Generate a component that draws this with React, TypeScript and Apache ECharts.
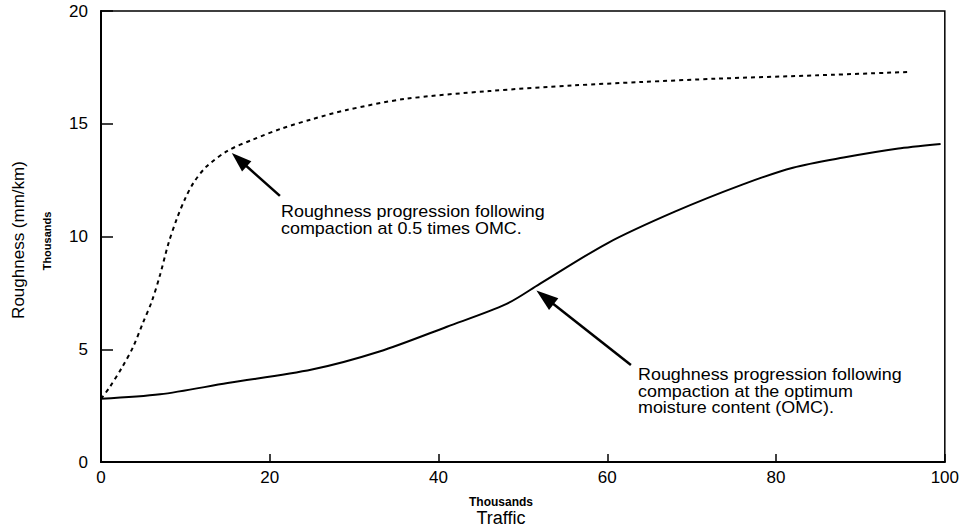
import React, { useEffect, useRef } from "react";
import * as echarts from "echarts";

// Traffic (thousands) vs roughness (thousands mm/km)
const optimumX = [0, 7, 15, 25, 33, 41, 48, 52, 60, 68, 76, 82, 88, 94.5, 99.5];
const optimumY = [2.8, 3.0, 3.5, 4.1, 4.9, 6.0, 7.0, 7.9, 9.7, 11.1, 12.3, 13.05, 13.5, 13.9, 14.1];

const halfOmcX = [0, 1, 2.5, 3.8, 5, 6, 7, 8, 9, 10, 11, 12.5, 15, 18, 21.5, 25, 29, 36, 46, 56, 64, 73, 85, 96];
const halfOmcY = [2.8, 3.3, 4.2, 5.1, 6.2, 7.1, 8.3, 9.7, 10.8, 11.7, 12.4, 13.1, 13.8, 14.3, 14.8, 15.2, 15.6, 16.1, 16.45, 16.7, 16.85, 17.0, 17.15, 17.3];

const xTicks = [0, 20, 40, 60, 80, 100];
const yTicks = [0, 5, 10, 15, 20];

const annotation1 = ["Roughness progression following", "compaction at 0.5 times OMC."];
const annotation2 = [
  "Roughness progression following",
  "compaction at the optimum",
  "moisture content (OMC).",
];

// arrows in data coordinates: tail -> tip
const arrow1 = { tail: [21.2, 11.8], tip: [15.5, 13.7] };
const arrow2 = { tail: [62.8, 4.3], tip: [51.6, 7.6] };

const FONT = "'Liberation Sans', Arial, Helvetica, sans-serif";

const zip = (xs: number[], ys: number[]) => xs.map((x, i) => [x, ys[i]]);

export default function App() {
  const ref = useRef<HTMLDivElement>(null);

  useEffect(() => {
    if (!ref.current) return;
    const chart = echarts.init(ref.current, null, { renderer: "svg" });
    chart.setOption({
      animation: false,
      backgroundColor: "#ffffff",
      grid: {
        left: 101,
        right: 16,
        top: 11,
        bottom: 68,
        show: true,
        borderColor: "#000",
        borderWidth: 1.5,
        backgroundColor: "transparent",
      },
      xAxis: {
        type: "value",
        min: xTicks[0],
        max: xTicks[xTicks.length - 1],
        interval: 20,
        axisLine: { show: true, lineStyle: { color: "#000", width: 2 } },
        axisTick: { show: true, inside: true, length: 8, lineStyle: { color: "#000", width: 1.5 } },
        axisLabel: { color: "#000", fontSize: 17, fontFamily: FONT, margin: 7 },
        splitLine: { show: false },
      },
      yAxis: {
        type: "value",
        min: yTicks[0],
        max: yTicks[yTicks.length - 1],
        interval: 5,
        axisLine: { show: true, lineStyle: { color: "#000", width: 2 } },
        axisTick: { show: true, inside: true, length: 12, lineStyle: { color: "#000", width: 1.5 } },
        axisLabel: { color: "#000", fontSize: 17, fontFamily: FONT, margin: 13 },
        splitLine: { show: false },
      },
      series: [
        {
          type: "line",
          name: "Optimum moisture content",
          data: zip(optimumX, optimumY),
          smooth: 0.3,
          showSymbol: false,
          lineStyle: { color: "#000", width: 2 },
        },
        {
          type: "line",
          name: "0.5 times OMC",
          data: zip(halfOmcX, halfOmcY),
          smooth: 0.3,
          showSymbol: false,
          lineStyle: { color: "#000", width: 2, type: [4, 4] },
        },
      ],
    });

    const toPx = (p: number[]) => chart.convertToPixel({ gridIndex: 0 }, p) as number[];
    const arrowEls = (a: { tail: number[]; tip: number[] }, headLen: number, headW: number) => {
      const t = toPx(a.tail);
      const h = toPx(a.tip);
      const dx = h[0] - t[0];
      const dy = h[1] - t[1];
      const L = Math.sqrt(dx * dx + dy * dy);
      const ux = dx / L;
      const uy = dy / L;
      const bx = h[0] - ux * headLen;
      const by = h[1] - uy * headLen;
      const px = -uy * (headW / 2);
      const py = ux * (headW / 2);
      return [
        {
          type: "line",
          shape: { x1: t[0], y1: t[1], x2: bx + ux * 2, y2: by + uy * 2 },
          style: { stroke: "#000", lineWidth: 2.5 },
        },
        {
          type: "polygon",
          shape: {
            points: [
              [h[0], h[1]],
              [bx + px, by + py],
              [bx - px, by - py],
            ],
          },
          style: { fill: "#000" },
        },
      ];
    };

    const lines = (texts: string[], x: number, yCenter0: number, step: number) =>
      texts.map((t, i) => ({
        type: "text",
        x,
        y: yCenter0 + i * step,
        scaleX: 1.12,
        style: {
          text: t,
          font: `16px ${FONT}`,
          fill: "#000",
          textVerticalAlign: "middle",
        },
      }));

    chart.setOption({
      graphic: [
        ...arrowEls(arrow1, 20, 14),
        ...arrowEls(arrow2, 22, 15),
        ...lines(annotation1, 281, 212, 17),
        ...lines(annotation2, 638, 375, 16.5),
        {
          type: "text",
          x: 18,
          y: 240,
          rotation: Math.PI / 2,
          style: {
            text: "Roughness (mm/km)",
            font: `17px ${FONT}`,
            fill: "#000",
            textAlign: "center",
            textVerticalAlign: "middle",
          },
        },
        {
          type: "text",
          x: 47,
          y: 241,
          rotation: Math.PI / 2,
          style: {
            text: "Thousands",
            font: `bold 11px ${FONT}`,
            fill: "#000",
            textAlign: "center",
            textVerticalAlign: "middle",
          },
        },
        {
          type: "text",
          x: 501,
          y: 502,
          style: {
            text: "Thousands",
            font: `bold 12px ${FONT}`,
            fill: "#000",
            textAlign: "center",
            textVerticalAlign: "middle",
          },
        },
        {
          type: "text",
          x: 501,
          y: 518,
          style: {
            text: "Traffic",
            font: `18px ${FONT}`,
            fill: "#000",
            textAlign: "center",
            textVerticalAlign: "middle",
          },
        },
      ],
    });

    return () => chart.dispose();
  }, []);

  return (
    <div
      ref={ref}
      style={{ position: "fixed", left: 0, top: 0, width: 962, height: 530, background: "#fff" }}
    />
  );
}
